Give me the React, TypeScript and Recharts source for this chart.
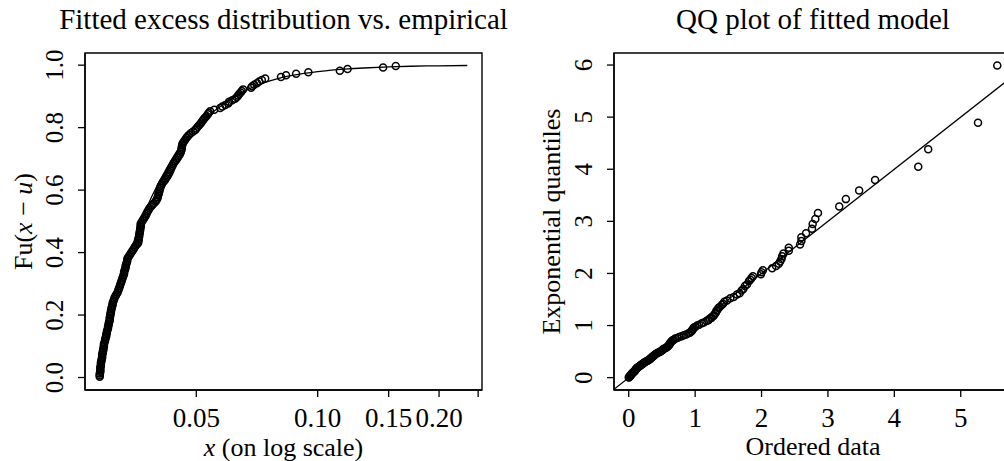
import React from 'react';
import { ComposedChart, Scatter, Line, XAxis, YAxis, ReferenceArea } from 'recharts';

// left panel: empirical excess distribution (x on log scale) and fitted GPD curve
const ecdfX = [
  0.0288, 0.0288, 0.0288, 0.0289, 0.0289, 0.0289, 0.0289, 0.029, 0.029, 0.029,
  0.0291, 0.0291, 0.0292, 0.0292, 0.0292, 0.0293, 0.0293, 0.0294, 0.0294, 0.0295,
  0.0295, 0.0295, 0.0296, 0.0297, 0.0297, 0.0298, 0.0299, 0.0299, 0.03, 0.03,
  0.0301, 0.0302, 0.0302, 0.0303, 0.0303, 0.0304, 0.0305, 0.0305, 0.0305, 0.0306,
  0.0306, 0.0307, 0.0307, 0.0308, 0.0308, 0.0309, 0.031, 0.031, 0.0311, 0.0312,
  0.0313, 0.0314, 0.0316, 0.0317, 0.0319, 0.032, 0.0321, 0.0322, 0.0323, 0.0324,
  0.0325, 0.0326, 0.0327, 0.0328, 0.0329, 0.033, 0.0331, 0.0331, 0.0332, 0.0333,
  0.0334, 0.0334, 0.0335, 0.0336, 0.0337, 0.0337, 0.0338, 0.034, 0.0342, 0.0344,
  0.0346, 0.0348, 0.035, 0.0352, 0.0354, 0.0357, 0.0359, 0.0359, 0.036, 0.036,
  0.0361, 0.0361, 0.0362, 0.0362, 0.0363, 0.0363, 0.0364, 0.0364, 0.0364, 0.0366,
  0.0368, 0.037, 0.0372, 0.0374, 0.0376, 0.0377, 0.0379, 0.0381, 0.0383, 0.0386,
  0.0389, 0.0392, 0.0396, 0.0398, 0.04, 0.0401, 0.0402, 0.0403, 0.0404, 0.0405,
  0.0406, 0.0407, 0.0408, 0.041, 0.0412, 0.0415, 0.0418, 0.042, 0.0423, 0.0425,
  0.0427, 0.0429, 0.0431, 0.0432, 0.0434, 0.0436, 0.0438, 0.044, 0.0443, 0.0446,
  0.0449, 0.0451, 0.0454, 0.0456, 0.0458, 0.0459, 0.046, 0.046, 0.0461, 0.0462,
  0.0464, 0.0467, 0.047, 0.0473, 0.0476, 0.048, 0.0485, 0.0491, 0.0497, 0.05,
  0.0504, 0.0508, 0.0512, 0.0515, 0.0519, 0.0522, 0.0526, 0.053, 0.0534, 0.0537,
  0.0541, 0.0554, 0.0573, 0.058, 0.059, 0.06, 0.0603, 0.0614, 0.0624, 0.063,
  0.0635, 0.0639, 0.0644, 0.0648, 0.0653, 0.0684, 0.0688, 0.0696, 0.0707, 0.0716,
  0.0727, 0.0741, 0.0811, 0.0835, 0.0884, 0.0948, 0.1135, 0.1186, 0.1453, 0.1562,
];
const ecdfY = [
  0.0025, 0.0075, 0.0125, 0.0175, 0.0225, 0.0275, 0.0325, 0.0375, 0.0425, 0.0475,
  0.0525, 0.0575, 0.0625, 0.0675, 0.0725, 0.0775, 0.0825, 0.0875, 0.0925, 0.0975,
  0.1025, 0.1075, 0.1125, 0.1175, 0.1225, 0.1275, 0.1325, 0.1375, 0.1425, 0.1475,
  0.1525, 0.1575, 0.1625, 0.1675, 0.1725, 0.1775, 0.1825, 0.1875, 0.1925, 0.1975,
  0.2025, 0.2075, 0.2125, 0.2175, 0.2225, 0.2275, 0.2325, 0.2375, 0.2425, 0.2475,
  0.2525, 0.2575, 0.2625, 0.2675, 0.2725, 0.2775, 0.2825, 0.2875, 0.2925, 0.2975,
  0.3025, 0.3075, 0.3125, 0.3175, 0.3225, 0.3275, 0.3325, 0.3375, 0.3425, 0.3475,
  0.3525, 0.3575, 0.3625, 0.3675, 0.3725, 0.3775, 0.3825, 0.3875, 0.3925, 0.3975,
  0.4025, 0.4075, 0.4125, 0.4175, 0.4225, 0.4275, 0.4325, 0.4375, 0.4425, 0.4475,
  0.4525, 0.4575, 0.4625, 0.4675, 0.4725, 0.4775, 0.4825, 0.4875, 0.4925, 0.4975,
  0.5025, 0.5075, 0.5125, 0.5175, 0.5225, 0.5275, 0.5325, 0.5375, 0.5425, 0.5475,
  0.5525, 0.5575, 0.5625, 0.5675, 0.5725, 0.5775, 0.5825, 0.5875, 0.5925, 0.5975,
  0.6025, 0.6075, 0.6125, 0.6175, 0.6225, 0.6275, 0.6325, 0.6375, 0.6425, 0.6475,
  0.6525, 0.6575, 0.6625, 0.6675, 0.6725, 0.6775, 0.6825, 0.6875, 0.6925, 0.6975,
  0.7025, 0.7075, 0.7125, 0.7175, 0.7225, 0.7275, 0.7325, 0.7375, 0.7425, 0.7475,
  0.7525, 0.7575, 0.7625, 0.7675, 0.7725, 0.7775, 0.7825, 0.7875, 0.7925, 0.7975,
  0.8025, 0.8075, 0.8125, 0.8175, 0.8225, 0.8275, 0.8325, 0.8375, 0.8425, 0.8475,
  0.8525, 0.8575, 0.8625, 0.8675, 0.8725, 0.8775, 0.8825, 0.8875, 0.8925, 0.8975,
  0.9025, 0.9075, 0.9125, 0.9175, 0.9225, 0.9275, 0.9325, 0.9375, 0.9425, 0.9475,
  0.9525, 0.9575, 0.9625, 0.9675, 0.9725, 0.9775, 0.9825, 0.9875, 0.9925, 0.9975,
];
const fitX = [
  0.0288, 0.0295, 0.03, 0.031, 0.032, 0.033, 0.034, 0.035, 0.036, 0.038, 0.04, 0.042,
  0.045, 0.048, 0.05, 0.055, 0.06, 0.065, 0.07, 0.075, 0.08, 0.09, 0.1, 0.11, 0.12,
  0.13, 0.15, 0.17, 0.2, 0.235,
];
const fitY = [
  0, 0.08, 0.13, 0.21, 0.28, 0.34, 0.39, 0.435, 0.48, 0.555, 0.615, 0.665,
  0.73, 0.775, 0.8, 0.85, 0.885, 0.913, 0.933, 0.947, 0.958, 0.971, 0.979, 0.985, 0.9885,
  0.991, 0.9945, 0.9965, 0.998, 0.999,
];
const logTicks = [0.05, 0.1, 0.15, 0.2, 0.25];
const logTickLabels = ['0.05', '0.10', '0.15', '0.20', ''];
const probTicks = [0, 0.2, 0.4, 0.6, 0.8, 1];
const probTickLabels = ['0.0', '0.2', '0.4', '0.6', '0.8', '1.0'];

// right panel: QQ plot against exponential quantiles
const qqX = [
  0, 0.005, 0.01, 0.015, 0.02, 0.025, 0.03, 0.035, 0.04, 0.045,
  0.05, 0.055, 0.06, 0.07, 0.08, 0.085, 0.09, 0.095, 0.1, 0.105,
  0.11, 0.115, 0.12, 0.13, 0.14, 0.15, 0.16, 0.17, 0.18, 0.19,
  0.2, 0.21, 0.22, 0.23, 0.24, 0.255, 0.27, 0.285, 0.3, 0.31,
  0.32, 0.33, 0.34, 0.35, 0.36, 0.37, 0.38, 0.39, 0.4, 0.415,
  0.43, 0.45, 0.47, 0.485, 0.5, 0.51, 0.52, 0.54, 0.56, 0.575,
  0.59, 0.6, 0.61, 0.615, 0.62, 0.63, 0.64, 0.65, 0.66, 0.68,
  0.7, 0.73, 0.76, 0.795, 0.83, 0.865, 0.9, 0.92, 0.94, 0.95,
  0.96, 0.97, 0.98, 1.0, 1.03, 1.06, 1.1, 1.13, 1.17, 1.2,
  1.22, 1.245, 1.27, 1.285, 1.3, 1.31, 1.32, 1.335, 1.35, 1.37,
  1.4, 1.42, 1.44, 1.48, 1.53, 1.58, 1.63, 1.67, 1.7, 1.725,
  1.75, 1.78, 1.81,
  1.83, 1.85, 1.87, 1.99, 2.0, 2.02, 2.16, 2.22, 2.26, 2.28, 2.3, 2.31, 2.33, 2.41,
  2.41, 2.58, 2.6, 2.6, 2.67, 2.76, 2.77, 2.81, 2.85, 3.17, 3.27, 3.47, 3.71, 4.36,
  4.51, 5.26, 5.55,
];
const qqY = [
  0.0025, 0.0075, 0.0177, 0.0228, 0.033, 0.0382, 0.0487, 0.0539, 0.0645, 0.0699,
  0.0807, 0.0861, 0.0971, 0.1026, 0.1137, 0.1194, 0.1307, 0.1364, 0.1479, 0.1537,
  0.1655, 0.1714, 0.1833, 0.1893, 0.2015, 0.2076, 0.22, 0.2263, 0.2389, 0.2453,
  0.2581, 0.2646, 0.2777, 0.2844, 0.2978, 0.3045, 0.3182, 0.325, 0.339, 0.346,
  0.3603, 0.3675, 0.382, 0.3893, 0.4042, 0.4117, 0.4269, 0.4346, 0.4502, 0.4581,
  0.474, 0.4821, 0.4984, 0.5067, 0.5234, 0.5319, 0.549, 0.5577, 0.5754, 0.5843,
  0.6024, 0.6116, 0.6302, 0.6396, 0.6588, 0.6685, 0.6881, 0.6982, 0.7185, 0.7288,
  0.7497, 0.7604, 0.782, 0.793, 0.8154, 0.8267, 0.8499, 0.8616, 0.8855, 0.8977,
  0.9225, 0.9352, 0.961, 0.9742, 1.001, 1.0147, 1.0427, 1.057, 1.0862, 1.1011,
  1.1317, 1.1473, 1.1793, 1.1957, 1.2293, 1.2465, 1.282, 1.3001, 1.3375, 1.3567,
  1.3963, 1.4168, 1.4589, 1.4806, 1.5256, 1.5488, 1.5969, 1.622, 1.674, 1.701,
  1.7573, 1.7868, 1.8482,
  1.8806, 1.9139, 1.9484, 1.9841, 2.0212, 2.0597, 2.0997, 2.1413, 2.1848, 2.2302,
  2.2778, 2.3279, 2.3805, 2.4361, 2.495, 2.5575, 2.6242, 2.6957, 2.7726, 2.8559,
  2.9469, 3.047, 3.1582, 3.2834, 3.4265, 3.5936, 3.7942, 4.0456, 4.382, 4.8929,
  5.9915,
];
const qqLineX = [-1, 7]; // y = x reference line
const qqXTicks = [0, 1, 2, 3, 4, 5];
const qqYTicks = [0, 1, 2, 3, 4, 5, 6];

const FONT = '"Liberation Serif", "Times New Roman", serif';
const XTICK_SIZE = 27;
const YTICK_SIZE = 25;
const LAB_SIZE = 26;
const TITLE_SIZE = 29;

const W = 1004;
const H = 461;
const PT = 53;
const PB = 390;

// R-style 4% padding of the data range
const pad = (lo: number, hi: number): [number, number] => {
  const d = (hi - lo) * 0.04;
  return [lo - d, hi + d];
};
const padLog = (lo: number, hi: number): [number, number] => {
  const [a, b] = pad(Math.log(lo), Math.log(hi));
  return [Math.exp(a), Math.exp(b)];
};

const ecdfData = ecdfX.map((x, i) => ({ x, y: ecdfY[i] }));
const fitData = fitX.map((x, i) => ({ x, y: fitY[i] }));
const qqData = qqX.map((x, i) => ({ x, y: qqY[i] }));
const qqLineData = qqLineX.map((x) => ({ x, y: x }));

const leftXDomain = padLog(Math.min(...ecdfX, ...fitX), Math.max(...ecdfX, ...fitX));
const leftYDomain = pad(Math.min(...ecdfY, ...fitY), Math.max(...ecdfY, ...fitY));
const rightXDomain = pad(Math.min(...qqX), Math.max(...qqX));
const rightYDomain = pad(Math.min(...qqY), Math.max(...qqY));

const Ring = (p: any) => (
  <circle cx={p.cx} cy={p.cy} r={3.5} fill="none" stroke="#000" strokeWidth={1.5} />
);

const makeXTick = (ticks: number[], labels: string[]) => (p: any) => {
  const i = ticks.findIndex((t) => Math.abs(t - p.payload.value) < 1e-9);
  return (
    <text x={p.x} y={p.y} textAnchor="middle" fontSize={XTICK_SIZE} fontFamily={FONT} fill="#000">
      {i >= 0 ? labels[i] : String(p.payload.value)}
    </text>
  );
};

const makeYTick = (ticks: number[], labels: string[]) => (p: any) => {
  const i = ticks.findIndex((t) => Math.abs(t - p.payload.value) < 1e-9);
  return (
    <text
      x={p.x}
      y={p.y}
      transform={`rotate(-90 ${p.x} ${p.y})`}
      textAnchor="middle"
      fontSize={YTICK_SIZE}
      fontFamily={FONT}
      fill="#000"
    >
      {i >= 0 ? labels[i] : String(p.payload.value)}
    </text>
  );
};

const axisLine = { stroke: '#000', strokeWidth: 1.4 };
const tickLine = { stroke: '#000', strokeWidth: 1.3 };

// left chart layout
const L_LEFT = 85;
const L_WIDTH = 500;
const L_RIGHT = 482;
// right chart layout (box runs past the page edge)
const R_OFFSET = 500;
const R_AXIS = 114;
const R_WIDTH = 530;
const R_RIGHT = 1012;

export default function App() {
  const lcx = (L_LEFT + L_RIGHT) / 2;
  const rcx = (R_OFFSET + R_AXIS + R_RIGHT) / 2;
  const cy = (PT + PB) / 2;
  const lyLab = L_LEFT - 53;
  const ryLab = R_OFFSET + R_AXIS - 54;

  return (
    <div style={{ position: 'absolute', left: 0, top: 0, width: W, height: H, overflow: 'hidden', background: '#fff' }}>
      <div style={{ position: 'absolute', left: 0, top: 0 }}>
        <ComposedChart width={L_WIDTH} height={H} margin={{ top: PT, right: L_WIDTH - L_RIGHT, bottom: 0, left: 0 }}>
          <XAxis
            dataKey="x"
            type="number"
            scale="log"
            domain={leftXDomain}
            allowDataOverflow
            ticks={logTicks}
            interval={0}
            height={H - PB}
            tickSize={7}
            tickMargin={30}
            axisLine={axisLine}
            tickLine={tickLine}
            tick={makeXTick(logTicks, logTickLabels)}
          />
          <YAxis
            dataKey="y"
            type="number"
            domain={leftYDomain}
            allowDataOverflow
            ticks={probTicks}
            interval={0}
            width={L_LEFT}
            tickSize={7}
            tickMargin={15}
            axisLine={axisLine}
            tickLine={tickLine}
            tick={makeYTick(probTicks, probTickLabels)}
          />
          <ReferenceArea
            x1={leftXDomain[0]}
            x2={leftXDomain[1]}
            y1={leftYDomain[0]}
            y2={leftYDomain[1]}
            fill="none"
            stroke="#000"
            strokeWidth={1.4}
            ifOverflow="visible"
          />
          <Scatter data={ecdfData} dataKey="y" shape={Ring} isAnimationActive={false} />
          <Line data={fitData} dataKey="y" type="monotone" stroke="#000" strokeWidth={1.3} dot={false} activeDot={false} isAnimationActive={false} />
        </ComposedChart>
      </div>

      <div style={{ position: 'absolute', left: R_OFFSET, top: 0 }}>
        <ComposedChart width={R_WIDTH} height={H} margin={{ top: PT, right: R_WIDTH - (R_RIGHT - R_OFFSET), bottom: 0, left: 0 }}>
          <XAxis
            dataKey="x"
            type="number"
            domain={rightXDomain}
            allowDataOverflow
            ticks={qqXTicks}
            interval={0}
            height={H - PB}
            tickSize={7}
            tickMargin={30}
            axisLine={axisLine}
            tickLine={tickLine}
            tick={makeXTick(qqXTicks, qqXTicks.map(String))}
          />
          <YAxis
            dataKey="y"
            type="number"
            domain={rightYDomain}
            allowDataOverflow
            ticks={qqYTicks}
            interval={0}
            width={R_AXIS}
            tickSize={7}
            tickMargin={15}
            axisLine={axisLine}
            tickLine={tickLine}
            tick={makeYTick(qqYTicks, qqYTicks.map(String))}
          />
          <ReferenceArea
            x1={rightXDomain[0]}
            x2={rightXDomain[1]}
            y1={rightYDomain[0]}
            y2={rightYDomain[1]}
            fill="none"
            stroke="#000"
            strokeWidth={1.4}
            ifOverflow="visible"
          />
          <Scatter data={qqData} dataKey="y" shape={Ring} isAnimationActive={false} />
          <Line data={qqLineData} dataKey="y" type="linear" stroke="#000" strokeWidth={1.3} dot={false} activeDot={false} isAnimationActive={false} />
        </ComposedChart>
      </div>

      <svg width={W} height={H} style={{ position: 'absolute', left: 0, top: 0, pointerEvents: 'none' }} fontFamily={FONT} fill="#000">
        <text x={lcx} y={29} textAnchor="middle" fontSize={TITLE_SIZE}>Fitted excess distribution vs. empirical</text>
        <text x={rcx} y={29} textAnchor="middle" fontSize={TITLE_SIZE}>QQ plot of fitted model</text>
        <text x={lcx} y={456} textAnchor="middle" fontSize={LAB_SIZE}>
          <tspan fontStyle="italic">x</tspan> (on log scale)
        </text>
        <text x={rcx} y={455} textAnchor="middle" fontSize={LAB_SIZE}>Ordered data</text>
        <text x={lyLab} y={cy} textAnchor="middle" fontSize={LAB_SIZE} transform={`rotate(-90 ${lyLab} ${cy})`}>
          Fu(<tspan fontStyle="italic">x</tspan> − <tspan fontStyle="italic">u</tspan>)
        </text>
        <text x={ryLab} y={cy} textAnchor="middle" fontSize={LAB_SIZE} transform={`rotate(-90 ${ryLab} ${cy})`}>
          Exponential quantiles
        </text>
      </svg>
    </div>
  );
}
